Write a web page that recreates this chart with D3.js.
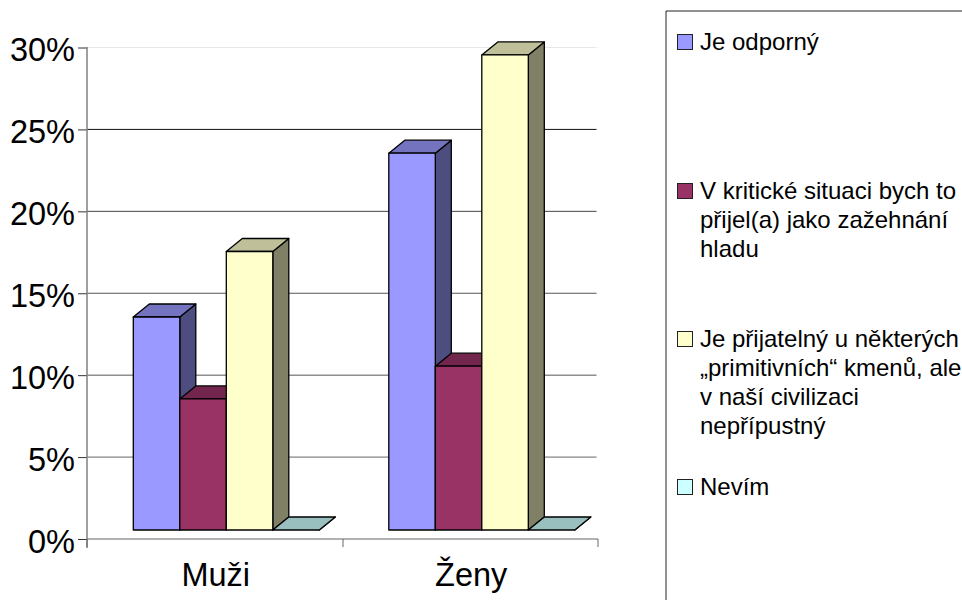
<!DOCTYPE html>
<html lang="cs">
<head>
<meta charset="utf-8">
<title>Muži a ženy</title>
<script src="https://d3js.org/d3.v7.min.js"></script>
<style>
  html, body { margin: 0; padding: 0; background: #fff; overflow: hidden; }
  text { font-family: "Liberation Sans", Arial, sans-serif; fill: #000; }
  .tick-label { font-size: 32.5px; }
  .cat-label { font-size: 32.5px; }
  .legend-label { font-size: 24px; }
</style>
</head>
<body>
<div id="vis"></div>
<script>
const categories = ["Muži", "Ženy"];
const seriesNames = ["Je odporný", "V kritické situaci bych to", "Je přijatelný u některých", "Nevím"];
const seriesMore = [[], ["přijel(a) jako zažehnání", "hladu"], ["„primitivních“ kmenů, ale", "v naší civilizaci", "nepřípustný"], []];
const seriesColors = ["#9999ff", "#993366", "#ffffcc", "#ccffff"];
const muzi = [13, 8, 17, 0];
const zeny = [23, 10, 29, 0];
const yTicks = [0, 5, 10, 15, 20, 25, 30];
const gridColors = ["#555", "#666", "#555", "#555", "#444", "#111", "#e8e8e8"];
const legendY = [42, 191, 339, 487];

const width = 962, height = 600;
const depthX = 16, depthY = 13;
const frontLift = 9; // the front of the 3D bars sits above the axis line

const svg = d3.select("#vis").append("svg")
  .attr("width", width).attr("height", height)
  .style("display", "block");

const x = d3.scaleBand().domain(categories).range([87, 598]);
const inner = d3.scaleBand().domain(d3.range(seriesNames.length)).range([46.3, 232.3]);
const y = d3.scaleLinear().domain([0, 30]).range([539, 47.5]);

// gridlines
svg.append("g").selectAll("line")
  .data(yTicks.slice(1))
  .enter().append("line")
  .attr("x1", 87).attr("x2", 596.5)
  .attr("y1", d => y(d)).attr("y2", d => y(d))
  .attr("stroke", (d, i) => gridColors[i + 1]);

// axes
const leftAxis = d3.axisLeft(y).tickValues(yTicks).tickSize(9).tickPadding(3).tickFormat(d => d + "%");
const gy = svg.append("g").attr("transform", "translate(87,0)").call(leftAxis);
gy.selectAll(".domain").remove();
gy.selectAll("line").attr("stroke", "#333");
gy.selectAll("text").attr("class", "tick-label").attr("dy", "0.41em").attr("font-family", null).attr("font-size", null);
svg.append("line").attr("x1", 87).attr("x2", 87).attr("y1", 47).attr("y2", 548)
  .attr("stroke", "#808080").attr("stroke-width", 1.5);
svg.append("line").attr("x1", 87).attr("x2", 598).attr("y1", 539).attr("y2", 539)
  .attr("stroke", "#666").attr("stroke-width", 1.2);
svg.append("g").selectAll("line")
  .data([87, 343, 598])
  .enter().append("line")
  .attr("x1", d => d).attr("x2", d => d).attr("y1", 539).attr("y2", 547)
  .attr("stroke", "#666");

svg.append("g").selectAll("text")
  .data(categories)
  .enter().append("text")
  .attr("class", "cat-label")
  .attr("x", d => x(d) + x.bandwidth() / 2 + 1)
  .attr("y", 586)
  .attr("text-anchor", "middle")
  .text(d => d);

// 3D bars, one group per category, drawn back to front
const shade = (c, k) => { const r = d3.rgb(c); return d3.rgb(r.r * k, r.g * k, r.b * k).formatHex(); };
[muzi, zeny].forEach((values, ci) => {
  const g = svg.append("g").attr("transform", "translate(" + x(categories[ci]) + ",0)");
  values.forEach((v, si) => {
    const x0 = inner(si), x1 = x0 + inner.bandwidth();
    const top = y(v) - frontLift, base = y(0) - frontLift;
    const col = seriesColors[si];
    const bar = g.append("g").attr("stroke", "#000").attr("stroke-width", 1.3).attr("stroke-linejoin", "round");
    bar.append("path")
      .attr("fill", shade(col, 0.5))
      .attr("d", "M" + x1 + "," + top + "L" + (x1 + depthX) + "," + (top - depthY) +
        "L" + (x1 + depthX) + "," + (base - depthY) + "L" + x1 + "," + base + "Z");
    bar.append("path")
      .attr("fill", shade(col, 0.75))
      .attr("d", "M" + x0 + "," + top + "L" + (x0 + depthX) + "," + (top - depthY) +
        "L" + (x1 + depthX) + "," + (top - depthY) + "L" + x1 + "," + top + "Z");
    if (v > 0) {
      bar.append("rect")
        .attr("x", x0).attr("y", top)
        .attr("width", inner.bandwidth()).attr("height", base - top)
        .attr("fill", col);
    }
  });
});

// legend
svg.append("path").attr("d", "M666,600V11H962").attr("fill", "none").attr("stroke", "#222");
seriesNames.forEach((name, i) => {
  const ly = legendY[i];
  svg.append("rect")
    .attr("x", 677.5).attr("y", ly - 7.5)
    .attr("width", 15).attr("height", 15)
    .attr("fill", seriesColors[i]).attr("stroke", "#222");
  const t = svg.append("text").attr("class", "legend-label").attr("x", 700).attr("y", ly + 8);
  t.append("tspan").text(name);
  seriesMore[i].forEach(line => {
    t.append("tspan").attr("x", 700).attr("dy", 29).text(line);
  });
});
</script>
</body>
</html>
